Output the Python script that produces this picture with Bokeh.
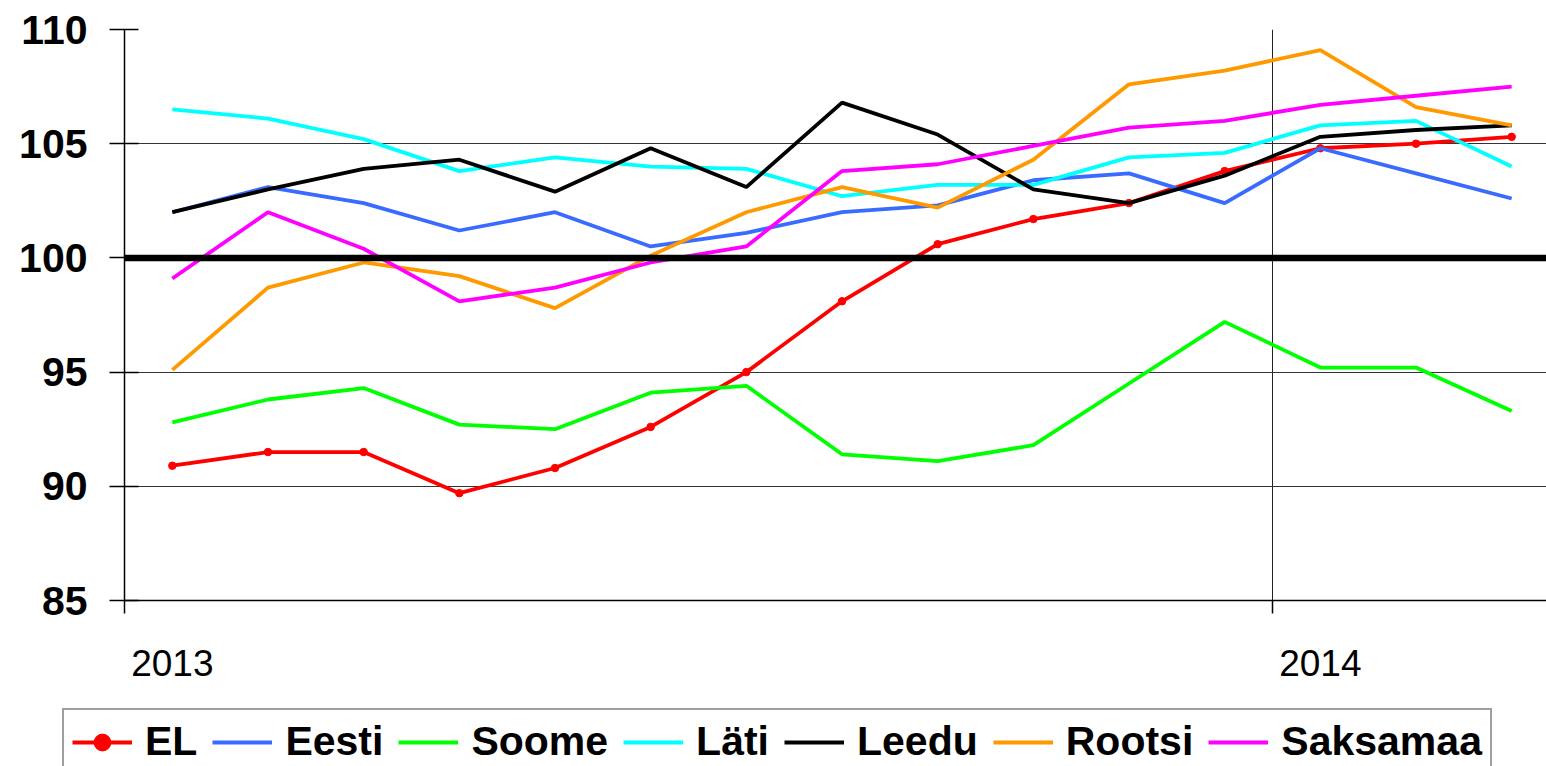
from bokeh.plotting import figure
from bokeh.models import Range1d, FixedTicker, Legend, LegendItem, Span
from bokeh.embed import file_html
from bokeh.resources import INLINE

# ---- data ----
months = list(range(1, 16))  # 2013-01 .. 2014-03
year_ticks = [1, 13]
year_labels = ["2013", "2014"]
year_bounds = [0.5, 12.5]

EL = [90.9, 91.5, 91.5, 89.7, 90.8, 92.6, 95.0, 98.1, 100.6, 101.7, 102.4, 103.8, 104.8, 105.0, 105.3]
Eesti = [102.0, 103.1, 102.4, 101.2, 102.0, 100.5, 101.1, 102.0, 102.3, 103.4, 103.7, 102.4, 104.8, 103.7, 102.6]
Soome = [92.8, 93.8, 94.3, 92.7, 92.5, 94.1, 94.4, 91.4, 91.1, 91.8, 94.5, 97.2, 95.2, 95.2, 93.3]
Lati = [106.5, 106.1, 105.2, 103.8, 104.4, 104.0, 103.9, 102.7, 103.2, 103.2, 104.4, 104.6, 105.8, 106.0, 104.0]
Leedu = [102.0, 103.0, 103.9, 104.3, 102.9, 104.8, 103.1, 106.8, 105.4, 103.0, 102.4, 103.6, 105.3, 105.6, 105.8]
Rootsi = [95.1, 98.7, 99.8, 99.2, 97.8, 100.1, 102.0, 103.1, 102.2, 104.3, 107.6, 108.2, 109.1, 106.6, 105.8]
Saksamaa = [99.1, 102.0, 100.4, 98.1, 98.7, 99.8, 100.5, 103.8, 104.1, 104.9, 105.7, 106.0, 106.7, 107.1, 107.5]

series_names = ["EL", "Eesti", "Soome", "Läti", "Leedu", "Rootsi", "Saksamaa"]
series_values = [EL, Eesti, Soome, Lati, Leedu, Rootsi, Saksamaa]
series_colors = ["#FF0000", "#3A6BFF", "#00FF00", "#00FFFF", "#000000", "#FF9900", "#FF00FF"]

y_ticks = [85, 90, 95, 100, 105, 110]
baseline = 100

FONT = "Liberation Sans"
LW = 3.8

p = figure(width=1546, height=700, output_backend="svg", toolbar_location=None,
           x_range=Range1d(0.5, 15.364), y_range=Range1d(85, 110),
           min_border_left=124, min_border_right=0, min_border_top=29, min_border_bottom=100)
p.outline_line_color = None
p.background_fill_color = "white"
p.border_fill_color = "white"

# y axis
ya = p.yaxis[0]
ya.ticker = FixedTicker(ticks=y_ticks, minor_ticks=[])
ya.axis_line_color = "black"
ya.axis_line_width = 1.5
ya.major_tick_in = 14
ya.major_tick_out = 15
ya.major_tick_line_color = "black"
ya.major_tick_line_width = 1.5
ya.minor_tick_line_color = None
ya.major_label_text_font = FONT
ya.major_label_text_font_style = "bold"
ya.major_label_text_font_size = "41px"
ya.major_label_text_color = "black"
ya.major_label_standoff = 22

# x axis
xa = p.xaxis[0]
xa.ticker = FixedTicker(ticks=year_ticks, minor_ticks=year_bounds)
xa.major_label_overrides = {t: l for t, l in zip(year_ticks, year_labels)}
xa.axis_line_color = "black"
xa.axis_line_width = 1.5
xa.major_tick_line_color = None
xa.major_tick_in = 0
xa.major_tick_out = 0
xa.minor_tick_line_color = "black"
xa.minor_tick_line_width = 1.5
xa.minor_tick_in = 0
xa.minor_tick_out = 13
xa.major_label_text_font = FONT
xa.major_label_text_font_size = "37px"
xa.major_label_text_color = "black"
xa.major_label_standoff = 36

# grids
p.ygrid.ticker = FixedTicker(ticks=y_ticks)
p.ygrid.grid_line_color = "#333333"
p.ygrid.grid_line_width = 1
p.xgrid.ticker = FixedTicker(ticks=[year_bounds[1]])
p.xgrid.grid_line_color = "#222222"
p.xgrid.grid_line_width = 1

for name, vals, col in zip(series_names, series_values, series_colors):
    p.line(months, vals, line_color=col, line_width=LW)
    if name == "EL":
        p.scatter(months, vals, size=7.5, fill_color=col, line_color=col, marker="circle")

p.add_layout(Span(location=baseline, dimension="width", line_color="black", line_width=6.5))

# ---- legend strip (separate root, so its frame starts at the left edge) ----
q = figure(width=1546, height=66, output_backend="svg", toolbar_location=None,
           x_axis_type=None, y_axis_type=None,
           x_range=Range1d(0, 1), y_range=Range1d(0, 1),
           min_border_left=0, min_border_right=0, min_border_top=0, min_border_bottom=0)
q.grid.visible = False
q.outline_line_color = None
q.background_fill_color = "white"
q.border_fill_color = "white"

items = []
off = [-5, -4]  # outside the strip's visible range, only used for legend glyphs
for name, col in zip(series_names, series_colors):
    rs = [q.line(off, off, line_color=col, line_width=LW)]
    if name == "EL":
        rs.append(q.scatter(off, off, size=6.5, fill_color=col, line_color=col, marker="circle"))
    items.append(LegendItem(label=name, renderers=rs))

legend = Legend(items=items, orientation="horizontal", location=(62, -9),
                label_text_font=FONT, label_text_font_style="bold", label_text_font_size="41px",
                label_text_color="black", glyph_width=60, glyph_height=42, label_height=42,
                label_standoff=13, spacing=15, padding=8, margin=0,
                border_line_color="#404040", border_line_width=2,
                background_fill_color="white", background_fill_alpha=1.0)
q.add_layout(legend, "center")

open("out.html", "w").write(file_html([p, q], INLINE))
